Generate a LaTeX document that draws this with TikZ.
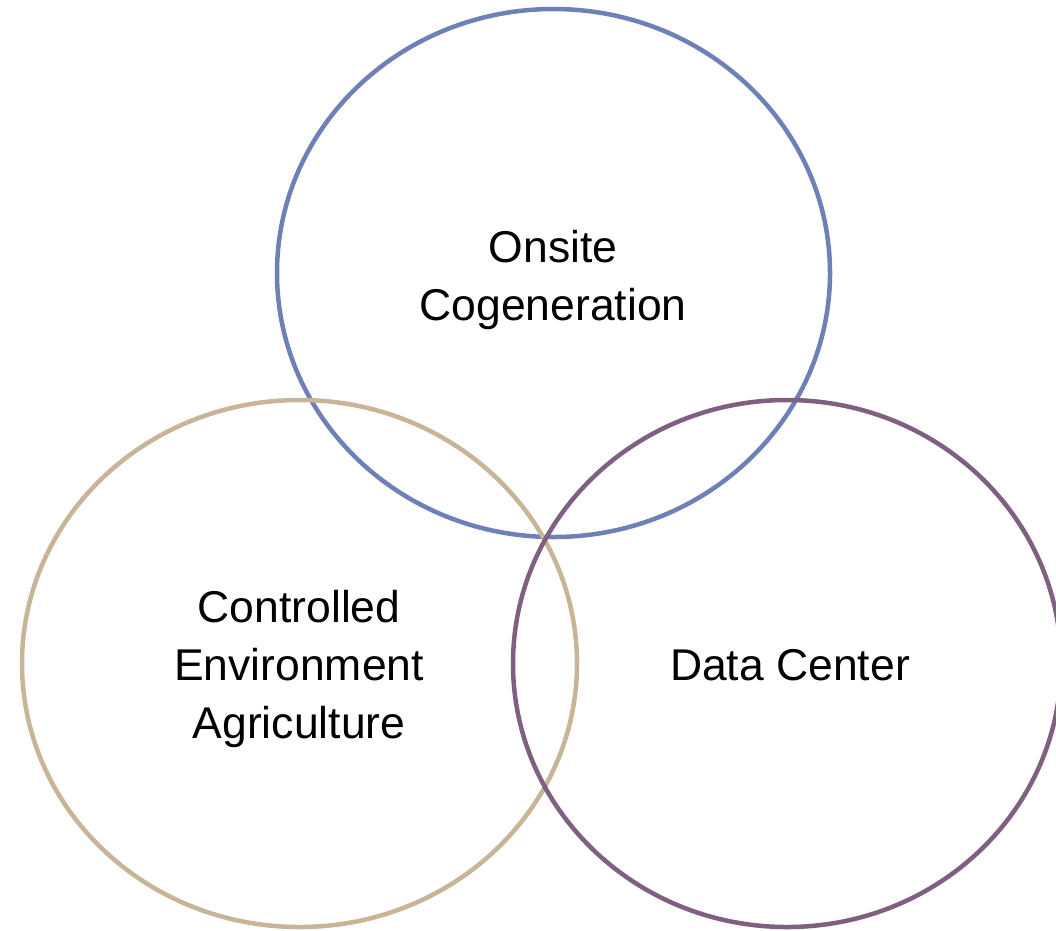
\documentclass[tikz,border=0pt]{standalone}
\usepackage{fontspec}
\setmainfont{Liberation Sans}
\definecolor{cblue}{RGB}{111,128,185}
\definecolor{ctan}{RGB}{200,180,150}
\definecolor{cpurple}{RGB}{128,96,128}
\begin{document}
\begin{tikzpicture}[x=1pt,y=-1pt,
  ring/.style={line width=4.5pt},
  lbl/.style={align=center,font=\fontsize{44.5}{58}\selectfont,inner sep=0pt}]
\useasboundingbox (0,0) rectangle (1056,930);
\draw[ring,cblue] (553.5,273) ellipse [x radius=276.5, y radius=264];
\draw[ring,ctan] (299.5,663.5) ellipse [x radius=277.5, y radius=263.5];
\draw[ring,cpurple] (787,663.5) ellipse [x radius=274, y radius=263.5];
\node[lbl,anchor=base] (onsite) at (553,320) {Onsite\\Cogeneration};
\node[lbl,anchor=base] (cea) at (299,738) {Controlled\\Environment\\Agriculture};
\node[lbl,anchor=base] (dc) at (790,680) {Data Center};
\end{tikzpicture}
\end{document}
